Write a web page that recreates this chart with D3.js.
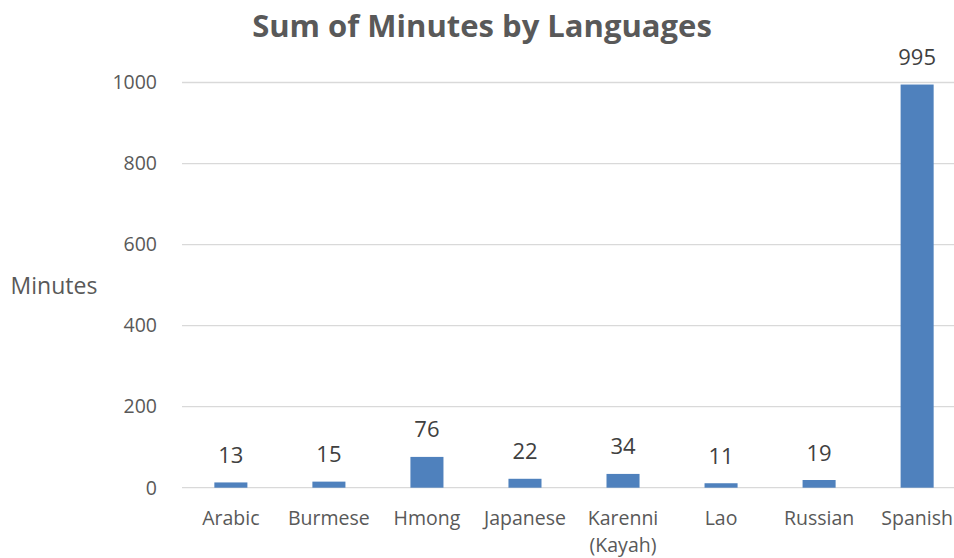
<!DOCTYPE html>
<html><head><meta charset="utf-8">
<script src="https://cdn.jsdelivr.net/npm/d3@7"></script>
<style>body{margin:0;background:#fff}svg{display:block}</style>
</head><body>
<script>
const categories = ["Arabic","Burmese","Hmong","Japanese","Karenni (Kayah)","Lao","Russian","Spanish"];
const minutes = [13,15,76,22,34,11,19,995];
const yTicks = [0,200,400,600,800,1000];
const title = "Sum of Minutes by Languages";
const yLabel = "Minutes";

const W=954,H=558;
const svg=d3.select("body").append("svg").attr("width",W).attr("height",H);
const font="'Open Sans', Lato, sans-serif";
const x=d3.scaleBand().domain(categories).range([182,966]).paddingInner(0.663).paddingOuter(0.33);
const y=d3.scaleLinear().domain([0,1000]).range([487.7,82.5]);

const g=svg.append("g");
g.selectAll("line.grid").data(yTicks).join("line")
 .attr("x1",182).attr("x2",W).attr("y1",d=>y(d)).attr("y2",d=>y(d))
 .attr("stroke","#d9d9d9").attr("stroke-width",1.3);

g.selectAll("text.yt").data(yTicks).join("text")
 .attr("x",157).attr("y",d=>y(d)).attr("dy","0.35em").attr("text-anchor","end")
 .attr("font-family",font).attr("font-size",19.5).attr("fill","#595959").text(d=>d);

g.selectAll("rect").data(minutes).join("rect")
 .attr("x",(d,i)=>x(categories[i])).attr("width",x.bandwidth())
 .attr("y",d=>y(d)).attr("height",d=>y(0)-y(d)).attr("fill","#4f81bd");

g.selectAll("text.dl").data(minutes).join("text")
 .attr("x",(d,i)=>x(categories[i])+x.bandwidth()/2).attr("y",d=>y(d)-19.5)
 .attr("text-anchor","middle").attr("font-family",font).attr("font-size",22).attr("fill","#404040").text(d=>d);

categories.forEach(c=>{
  const cx=x(c)+x.bandwidth()/2;
  const parts=c==="Karenni (Kayah)"?["Karenni","(Kayah)"]:[c];
  const t=svg.append("text").attr("text-anchor","middle")
     .attr("font-family",font).attr("font-size",19.5).attr("fill","#595959");
  parts.forEach((p,j)=>{
    t.append("tspan").attr("x",cx).attr("y",525+j*27).text(p);
  });
});

svg.append("text").attr("x",54).attr("y",286).attr("dy","0.35em").attr("text-anchor","middle")
 .attr("font-family",font).attr("font-size",23).attr("fill","#595959").text(yLabel);

svg.append("text").attr("x",482).attr("y",37).attr("text-anchor","middle")
 .attr("font-family",font).attr("font-weight","bold").attr("font-size",31).attr("fill","#595959").text(title);
</script>
</body></html>
